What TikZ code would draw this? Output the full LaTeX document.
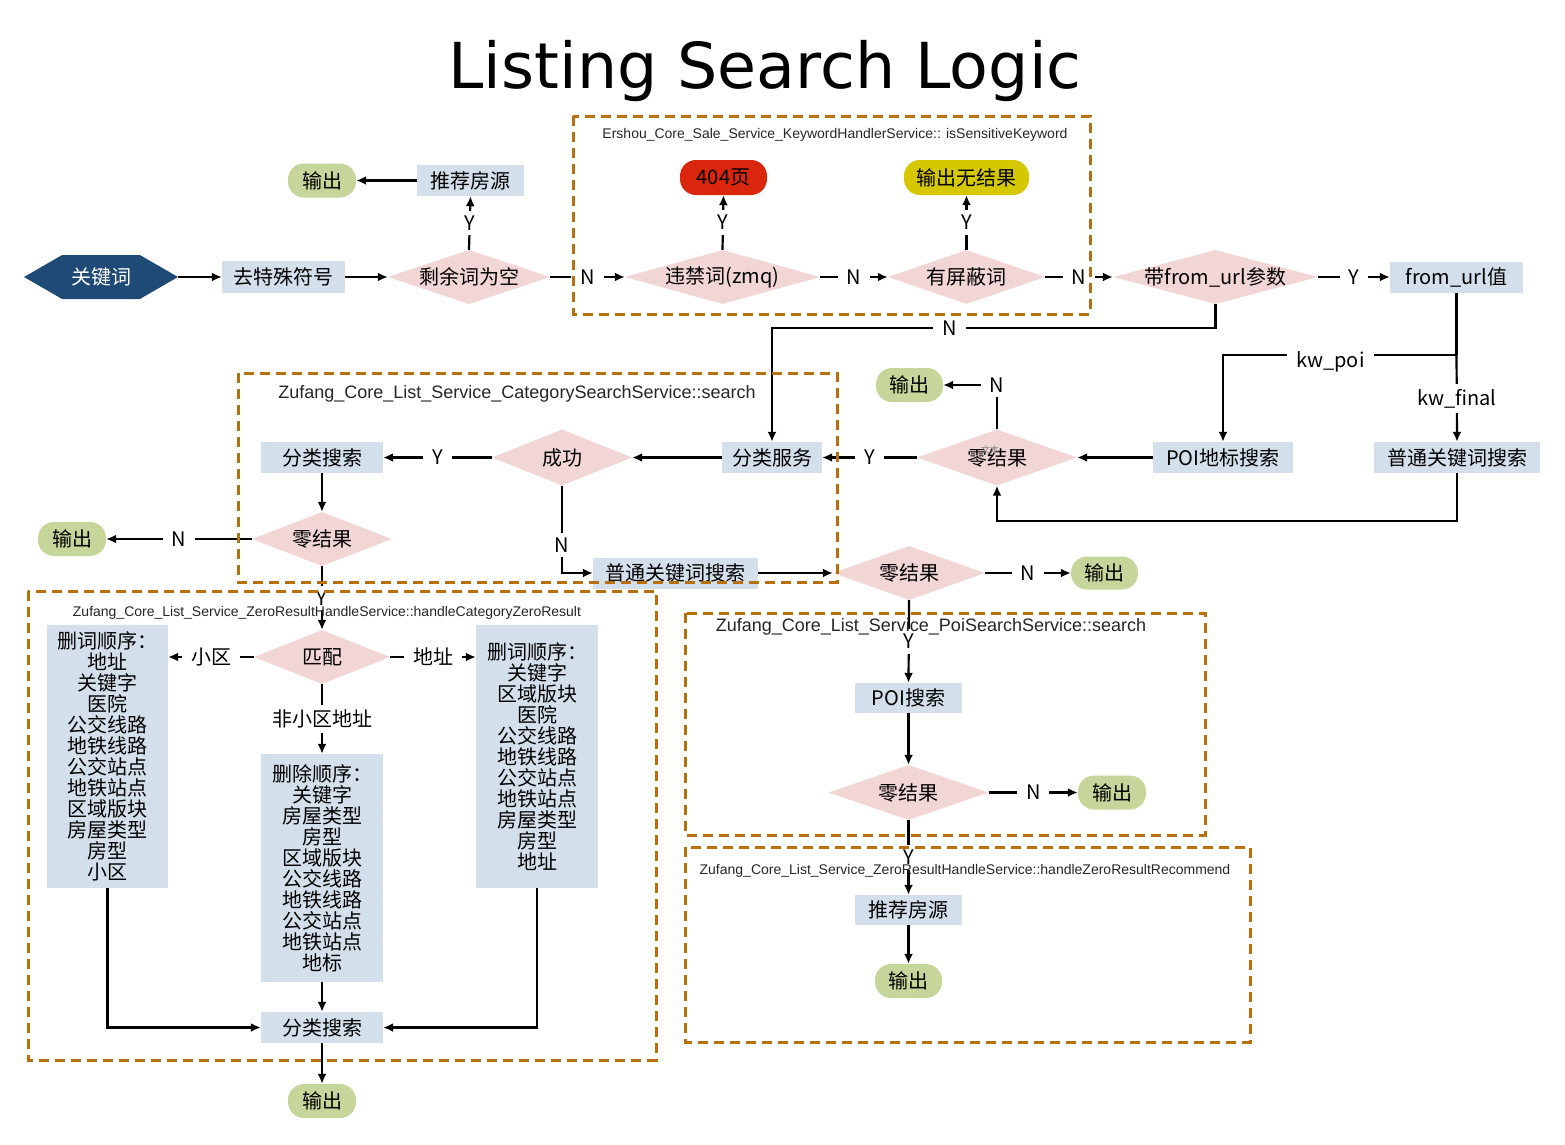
\documentclass[tikz,border=0pt]{standalone}
\usepackage{fontspec}
\setmainfont{Noto Sans CJK SC}
\newfontfamily\hdfont{Liberation Sans}
\newfontfamily\titlefont{DejaVu Sans}
\usetikzlibrary{shapes.geometric,shapes.symbols,arrows.meta}
\definecolor{boxblue}{HTML}{D3DFEA}
\definecolor{dpink}{HTML}{F2D5D5}
\definecolor{pgreen}{HTML}{C6D69B}
\definecolor{hexblue}{HTML}{1F4A75}
\definecolor{pred}{HTML}{D9260C}
\definecolor{pyellow}{HTML}{D5C800}
\definecolor{dashor}{HTML}{B8700C}
\tikzset{
  every node/.style={font=\fontsize{20}{21}\selectfont},
  boxn/.style={rectangle, fill=boxblue, inner sep=0pt, align=center},
  dia/.style={diamond, fill=dpink, inner sep=0pt, aspect=1},
  pill/.style={rectangle, rounded corners=16pt, fill=pgreen, inner sep=0pt},
  lbl/.style={fill=white, inner xsep=9pt, inner ysep=5pt},
  arr/.style={line width=2.2pt, -{Latex[length=10pt,width=9pt]}},
  ln/.style={line width=2.2pt},
  dbox/.style={draw=dashor, line width=3pt, dash pattern=on 10pt off 6pt},
  hd/.style={font=\hdfont\fontsize{14}{14}\selectfont, text=black!85},
  hdl/.style={font=\hdfont\fontsize{18}{18}\selectfont, text=black!85},
}
\newcommand{\dtext}[1]{\makebox[0pt]{#1}}
\begin{document}
\begin{tikzpicture}[x=1pt,y=-1pt]
\useasboundingbox (0,0) rectangle (1565,1144);
\fill[white] (0,0) rectangle (1565,1144);

\node[font=\titlefont\fontsize{63.4}{70}\selectfont, anchor=base] (title) at (765,88) {Listing Search Logic};

% row 1
\node[signal, signal to=west and east, signal pointer angle=60, fill=hexblue, text=white,
      minimum width=154pt, minimum height=44pt, inner sep=0pt] (kw) at (101,277) {关键词};
\node[boxn, minimum width=123pt, minimum height=32pt] (qt) at (283.5,277) {去特殊符号};
\node[dia, minimum width=162pt, minimum height=54pt] (sy) at (469,277) {\dtext{剩余词为空}};
\node[dia, minimum width=195pt, minimum height=54pt] (wj) at (722.5,277) {\dtext{违禁词(zmq)}};
\node[dia, minimum width=157pt, minimum height=54pt] (pb) at (966.5,277) {\dtext{有屏蔽词}};
\node[dia, minimum width=205pt, minimum height=54pt] (furl) at (1215.5,277) {\dtext{带from\_url参数}};
\node[boxn, minimum width=133pt, minimum height=31pt] (fv) at (1456.5,277) {from\_url值};

\node[boxn, minimum width=107pt, minimum height=31pt] (tj1) at (470.5,180.5) {推荐房源};
\node[pill, minimum width=68pt, minimum height=34pt] (out1) at (322,180.5) {输出};
\node[pill, fill=pred, minimum width=87pt, minimum height=35pt] (p404) at (723.5,177.5) {404页};
\node[pill, fill=pyellow, minimum width=125pt, minimum height=35pt] (wjg) at (966.5,177.5) {输出无结果};

% row 2
\node[boxn, minimum width=140pt, minimum height=31pt] (poi) at (1223,457.5) {POI地标搜索};
\node[boxn, minimum width=166pt, minimum height=31pt] (pk2) at (1457,457.5) {普通关键词搜索};
\node[dia, minimum width=160pt, minimum height=56pt] (zr1) at (997,457.5) {\dtext{零结果}};
\node[font=\fontsize{9}{9}\selectfont, text=gray] (artifact) at (990,450) {文本};
\node[pill, minimum width=67pt, minimum height=34pt] (out2) at (909.5,385) {输出};
\node[boxn, minimum width=100pt, minimum height=31pt] (flfw) at (772,457.5) {分类服务};
\node[dia, minimum width=140pt, minimum height=56pt] (cg) at (562,457.5) {\dtext{成功}};
\node[boxn, minimum width=122pt, minimum height=31pt] (fs1) at (322,457.5) {分类搜索};
\node[dia, minimum width=140pt, minimum height=54pt] (zr3) at (322,539) {\dtext{零结果}};
\node[pill, minimum width=68pt, minimum height=34pt] (out3) at (72,539) {输出};
\node[boxn, minimum width=165pt, minimum height=31pt] (pk1) at (675.5,573) {普通关键词搜索};
\node[dia, minimum width=152pt, minimum height=54pt] (zr2) at (909,573) {\dtext{零结果}};
\node[pill, minimum width=67pt, minimum height=33pt] (out5) at (1104.5,573) {输出};

% box 3
\node[dia, minimum width=136pt, minimum height=54pt] (pp) at (322,657) {\dtext{匹配}};
\node[boxn, minimum width=121pt, minimum height=263pt] (lb) at (107.5,756.5)
  {删词顺序：\\地址\\关键字\\医院\\公交线路\\地铁线路\\公交站点\\地铁站点\\区域版块\\房屋类型\\房型\\小区};
\node[boxn, minimum width=122pt, minimum height=263pt] (rb) at (537,756.5)
  {删词顺序：\\关键字\\区域版块\\医院\\公交线路\\地铁线路\\公交站点\\地铁站点\\房屋类型\\房型\\地址};
\node[boxn, minimum width=122pt, minimum height=228pt] (mb) at (322,868)
  {删除顺序：\\关键字\\房屋类型\\房型\\区域版块\\公交线路\\地铁线路\\公交站点\\地铁站点\\地标};
\node[boxn, minimum width=122pt, minimum height=31pt] (fs2) at (322,1027.5) {分类搜索};
\node[pill, minimum width=68pt, minimum height=34pt] (out4) at (322,1101) {输出};

% box 4/5
\node[boxn, minimum width=107pt, minimum height=30pt] (poi2) at (908.5,698) {POI搜索};
\node[dia, minimum width=160pt, minimum height=55pt] (zr4) at (908.5,792.5) {\dtext{零结果}};
\node[pill, minimum width=68pt, minimum height=34pt] (out6) at (1112,792.5) {输出};
\node[boxn, minimum width=107pt, minimum height=30pt] (tj2) at (908.5,910) {推荐房源};
\node[pill, minimum width=67pt, minimum height=34pt] (out7) at (908.5,981) {输出};

% connectors row 1
\draw[arr] (kw.east) -- (qt.west);
\draw[arr] (qt.east) -- (sy.west);
\draw[arr] (sy.east) -- node[lbl]{N} (wj.west);
\draw[arr] (sy.north) -- node[lbl]{Y} (tj1.south);
\draw[arr] (tj1.west) -- (out1.east);
\draw[arr] (wj.north) -- node[lbl]{Y} (p404.south);
\draw[arr] (wj.east) -- node[lbl]{N} (pb.west);
\draw[arr] (pb.north) -- node[lbl]{Y} (wjg.south);
\draw[arr] (pb.east) -- node[lbl]{N} (furl.west);
\draw[arr] (furl.east) -- node[lbl]{Y} (fv.west);
\draw[arr] (furl.south) -- ++(0,24) -| node[lbl,pos=0.3]{N} (flfw.north);

% from_url branches
\coordinate (j) at (1456.5,355);
\draw[ln] (fv.south) -- (j);
\draw[arr] (j) -| node[lbl,pos=0.27,yshift=-7pt]{kw\_poi} (poi.north);
\draw[arr] (j) -- node[lbl]{kw\_final} (pk2.north);
\draw[arr] (poi.west) -- (zr1.east);
\draw[arr] (pk2.south) -- ++(0,48) -| (zr1.south);
\draw[arr] (zr1.north) |- node[lbl,pos=0.5]{N} (out2.east);
\draw[arr] (zr1.west) -- node[lbl]{Y} (flfw.east);

% category search
\draw[arr] (flfw.west) -- (cg.east);
\draw[arr] (cg.west) -- node[lbl]{Y} (fs1.east);
\draw[arr] (cg.south) |- node[lbl,pos=0.34]{N} (pk1.west);
\draw[arr] (pk1.east) -- (zr2.west);
\draw[arr] (fs1.south) -- (zr3.north);
\draw[arr] (zr3.west) -- node[lbl]{N} (out3.east);
\draw[arr] (zr3.south) -- node[lbl]{Y} (pp.north);

% zero result category
\draw[arr] (pp.west) -- node[lbl]{小区} (pp.west -| lb.east);
\draw[arr] (pp.east) -- node[lbl]{地址} (pp.east -| rb.west);
\draw[arr] (pp.south) -- node[lbl]{非小区地址} (mb.north);
\draw[arr] (mb.south) -- (fs2.north);
\draw[arr] (lb.south) |- (fs2.west);
\draw[arr] (rb.south) |- (fs2.east);
\draw[arr] (fs2.south) -- (out4.north);

% poi search
\draw[arr] (zr2.east) -- node[lbl]{N} (out5.west);
\draw[arr] (zr2.south) -- node[lbl]{Y} (poi2.north);
\draw[arr] (poi2.south) -- (zr4.north);
\draw[arr] (zr4.east) -- node[lbl]{N} (out6.west);
\draw[arr] (zr4.south) -- node[lbl]{Y} (tj2.north);
\draw[arr] (tj2.south) -- (out7.north);

% dashed boxes
\draw[dbox] (573,116) rectangle (1090,314);
\draw[dbox] (238,373) rectangle (837,582);
\draw[dbox] (28,591) rectangle (656,1060);
\draw[dbox] (685,613) rectangle (1205,835);
\draw[dbox] (685,847) rectangle (1250,1042);

\node[hd] (h1) at (835,135) {Ershou\_Core\_Sale\_Service\_KeywordHandlerService:: isSensitiveKeyword};
\node[hdl] (h2) at (517,394) {Zufang\_Core\_List\_Service\_CategorySearchService::search};
\node[hd] (h3) at (327,613) {Zufang\_Core\_List\_Service\_ZeroResultHandleService::handleCategoryZeroResult};
\node[hdl] (h4) at (931,627) {Zufang\_Core\_List\_Service\_PoiSearchService::search};
\node[hd] (h5) at (965,871) {Zufang\_Core\_List\_Service\_ZeroResultHandleService::handleZeroResultRecommend};
\end{tikzpicture}
\end{document}
